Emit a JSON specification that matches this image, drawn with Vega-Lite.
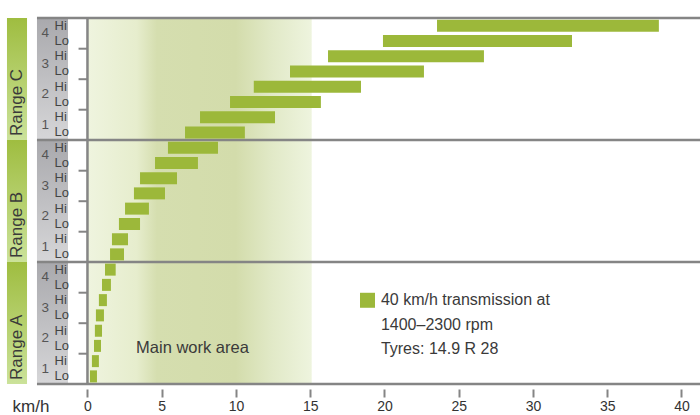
{
  "$schema": "https://vega.github.io/schema/vega-lite/v6.json",
  "width": 700,
  "height": 376,
  "autosize": {"type": "none"},
  "padding": {"left": 0, "top": 13, "right": 0, "bottom": 26},
  "background": "white",
  "config": {
    "view": {"stroke": null},
    "font": "Liberation Sans",
    "axisX": {
      "domain": false,
      "grid": false,
      "ticks": true,
      "tickColor": "#858585",
      "tickWidth": 2,
      "tickSize": 8,
      "labelFont": "Liberation Sans",
      "labelFontSize": 14,
      "labelColor": "#333333",
      "labelPadding": 2,
      "titleFont": "Liberation Sans",
      "titleFontSize": 17,
      "titleFontWeight": "normal",
      "titleColor": "#333333",
      "titleX": 12,
      "titleY": 17,
      "titleAlign": "left",
      "titleBaseline": "middle",
      "titleAngle": 0
    }
  },
  "datasets": {
    "gears": [
      {"range": "C", "gear": 4, "hl": "Hi", "row": 23, "from": 23.54, "to": 38.48},
      {"range": "C", "gear": 4, "hl": "Lo", "row": 22, "from": 19.9, "to": 32.63},
      {"range": "C", "gear": 3, "hl": "Hi", "row": 21, "from": 16.2, "to": 26.7},
      {"range": "C", "gear": 3, "hl": "Lo", "row": 20, "from": 13.64, "to": 22.66},
      {"range": "C", "gear": 2, "hl": "Hi", "row": 19, "from": 11.2, "to": 18.42},
      {"range": "C", "gear": 2, "hl": "Lo", "row": 18, "from": 9.6, "to": 15.72},
      {"range": "C", "gear": 1, "hl": "Hi", "row": 17, "from": 7.58, "to": 12.63},
      {"range": "C", "gear": 1, "hl": "Lo", "row": 16, "from": 6.57, "to": 10.6},
      {"range": "B", "gear": 4, "hl": "Hi", "row": 15, "from": 5.42, "to": 8.79},
      {"range": "B", "gear": 4, "hl": "Lo", "row": 14, "from": 4.55, "to": 7.44},
      {"range": "B", "gear": 3, "hl": "Hi", "row": 13, "from": 3.54, "to": 6.03},
      {"range": "B", "gear": 3, "hl": "Lo", "row": 12, "from": 3.13, "to": 5.22},
      {"range": "B", "gear": 2, "hl": "Hi", "row": 11, "from": 2.53, "to": 4.14},
      {"range": "B", "gear": 2, "hl": "Lo", "row": 10, "from": 2.12, "to": 3.54},
      {"range": "B", "gear": 1, "hl": "Hi", "row": 9, "from": 1.65, "to": 2.73},
      {"range": "B", "gear": 1, "hl": "Lo", "row": 8, "from": 1.52, "to": 2.46},
      {"range": "A", "gear": 4, "hl": "Hi", "row": 7, "from": 1.18, "to": 1.9},
      {"range": "A", "gear": 4, "hl": "Lo", "row": 6, "from": 0.98, "to": 1.58},
      {"range": "A", "gear": 3, "hl": "Hi", "row": 5, "from": 0.77, "to": 1.31},
      {"range": "A", "gear": 3, "hl": "Lo", "row": 4, "from": 0.57, "to": 1.11},
      {"range": "A", "gear": 2, "hl": "Hi", "row": 3, "from": 0.5, "to": 0.98},
      {"range": "A", "gear": 2, "hl": "Lo", "row": 2, "from": 0.44, "to": 0.91},
      {"range": "A", "gear": 1, "hl": "Hi", "row": 1, "from": 0.3, "to": 0.77},
      {"range": "A", "gear": 1, "hl": "Lo", "row": 0, "from": 0.17, "to": 0.64}
    ],
    "sections": [
      {"range": "C", "label": "Range C", "bottom": 15.5, "top": 23.5},
      {"range": "B", "label": "Range B", "bottom": 7.5, "top": 15.5},
      {"range": "A", "label": "Range A", "bottom": -0.5, "top": 7.5}
    ]
  },
  "layer": [
    {
      "data": {"values": [{"label": "Main work area", "from": 0, "to": 15.1}]},
      "mark": {
        "type": "rect",
        "fill": {
          "gradient": "linear", "x1": 0, "y1": 0, "x2": 1, "y2": 0,
          "stops": [
            {"offset": 0, "color": "#eff4df"},
            {"offset": 0.22, "color": "#e6edcd"},
            {"offset": 0.31, "color": "#d5deaf"},
            {"offset": 0.66, "color": "#d3dcab"},
            {"offset": 0.82, "color": "#e1e9c7"},
            {"offset": 1, "color": "#eef4de"}
          ]
        }
      },
      "encoding": {
        "x": {
          "field": "from", "type": "quantitative", "title": "km/h",
          "scale": {"domain": [-5.89, 41.25], "nice": false, "zero": false},
          "axis": {"values": [0, 5, 10, 15, 20, 25, 30, 35, 40]}
        },
        "x2": {"field": "to", "title": "km/h"},
        "y": {
          "datum": -0.5, "type": "quantitative",
          "scale": {"domain": [-0.5, 23.5], "nice": false, "zero": false},
          "axis": null
        },
        "y2": {"datum": 23.5}
      }
    },
    {
      "data": {"name": "sections"},
      "mark": {
        "type": "rect",
        "fill": {
          "gradient": "linear", "x1": 0, "y1": 0, "x2": 0, "y2": 1,
          "stops": [
            {"offset": 0, "color": "#a9a9ad"},
            {"offset": 1, "color": "#d6d6d8"}
          ]
        }
      },
      "encoding": {
        "x": {"datum": -3.4, "type": "quantitative", "title": "km/h"},
        "x2": {"datum": -1.31},
        "y": {"field": "top", "type": "quantitative"},
        "y2": {"field": "bottom"}
      }
    },
    {
      "data": {"name": "sections"},
      "mark": {
        "type": "rect",
        "fill": {
          "gradient": "linear", "x1": 0, "y1": 0, "x2": 0, "y2": 1,
          "stops": [
            {"offset": 0, "color": "#9fbd40"},
            {"offset": 1, "color": "#cbe29a"}
          ]
        }
      },
      "encoding": {
        "x": {"datum": -5.42, "type": "quantitative", "title": "km/h"},
        "x2": {"datum": -4.07},
        "y": {"field": "top", "type": "quantitative"},
        "y2": {"field": "bottom"}
      }
    },
    {
      "data": {"name": "sections"},
      "mark": {
        "type": "text", "angle": 270, "align": "left", "baseline": "middle",
        "dx": 4, "fontSize": 17, "color": "#3a3a3a"
      },
      "encoding": {
        "x": {"datum": -4.74, "type": "quantitative", "title": "km/h"},
        "y": {"field": "bottom", "type": "quantitative"},
        "text": {"field": "label"}
      }
    },
    {
      "data": {"name": "sections"},
      "mark": {"type": "rule", "color": "#858585", "strokeWidth": 2.5},
      "encoding": {
        "x": {"datum": -3.4, "type": "quantitative", "title": "km/h"},
        "x2": {"datum": 41.25},
        "y": {"field": "top", "type": "quantitative"}
      }
    },
    {
      "data": {"values": [{"edge": "bottom"}]},
      "mark": {"type": "rule", "color": "#858585", "strokeWidth": 2.5},
      "encoding": {
        "x": {"datum": -3.4, "type": "quantitative", "title": "km/h"},
        "x2": {"datum": 41.25},
        "y": {"datum": -0.5, "type": "quantitative"}
      }
    },
    {
      "data": {"values": [{"edge": "axis"}]},
      "mark": {"type": "rule", "color": "#858585", "strokeWidth": 2.5},
      "encoding": {
        "x": {"datum": 0, "type": "quantitative", "title": "km/h"},
        "y": {"datum": -0.5, "type": "quantitative"},
        "y2": {"datum": 23.5}
      }
    },
    {
      "data": {"name": "gears"},
      "transform": [
        {"aggregate": [{"op": "min", "field": "row", "as": "lowrow"}], "groupby": ["range", "gear"]},
        {"filter": "datum.gear != 1"}
      ],
      "mark": {"type": "rule", "color": "#858585", "strokeWidth": 2, "yOffset": 7.83},
      "encoding": {
        "x": {"datum": -0.6, "type": "quantitative", "title": "km/h"},
        "x2": {"datum": 0},
        "y": {"field": "lowrow", "type": "quantitative"}
      }
    },
    {
      "data": {"name": "gears"},
      "mark": {"type": "bar", "orient": "horizontal", "height": 12, "color": "#9cb83a"},
      "encoding": {
        "x": {"field": "from", "type": "quantitative", "title": "km/h"},
        "x2": {"field": "to", "title": "km/h"},
        "y": {"field": "row", "type": "quantitative"}
      }
    },
    {
      "data": {"name": "gears"},
      "mark": {"type": "text", "align": "left", "baseline": "middle", "fontSize": 13, "color": "#444444"},
      "encoding": {
        "x": {"datum": -2.22, "type": "quantitative", "title": "km/h"},
        "y": {"field": "row", "type": "quantitative"},
        "text": {"field": "hl"}
      }
    },
    {
      "data": {"name": "gears"},
      "transform": [
        {"aggregate": [{"op": "mean", "field": "row", "as": "mid"}], "groupby": ["range", "gear"]}
      ],
      "mark": {"type": "text", "align": "center", "baseline": "middle", "fontSize": 13.5, "color": "#555555"},
      "encoding": {
        "x": {"datum": -2.85, "type": "quantitative", "title": "km/h"},
        "y": {"field": "mid", "type": "quantitative"},
        "text": {"field": "gear"}
      }
    },
    {
      "data": {"values": [{"label": "Main work area"}]},
      "mark": {"type": "text", "align": "center", "baseline": "middle", "fontSize": 16.5, "color": "#3a3a3a"},
      "encoding": {
        "x": {"datum": 7.07, "type": "quantitative", "title": "km/h"},
        "y": {"datum": 1.88, "type": "quantitative"},
        "text": {"field": "label"}
      }
    },
    {
      "data": {"values": [{"legend": "40 km/h transmission"}]},
      "mark": {"type": "point", "shape": "square", "filled": true, "size": 225, "opacity": 1, "color": "#9cb83a"},
      "encoding": {
        "x": {"datum": 18.86, "type": "quantitative", "title": "km/h"},
        "y": {"datum": 4.99, "type": "quantitative"}
      }
    },
    {
      "data": {"values": [{"legend": "40 km/h transmission"}]},
      "mark": {
        "type": "text", "align": "left", "baseline": "middle", "fontSize": 16,
        "lineHeight": 24.3, "color": "#3a3a3a",
        "text": ["40 km/h transmission at", "1400–2300 rpm", "Tyres: 14.9 R 28"]
      },
      "encoding": {
        "x": {"datum": 19.76, "type": "quantitative", "title": "km/h"},
        "y": {"datum": 4.99, "type": "quantitative"}
      }
    }
  ]
}
